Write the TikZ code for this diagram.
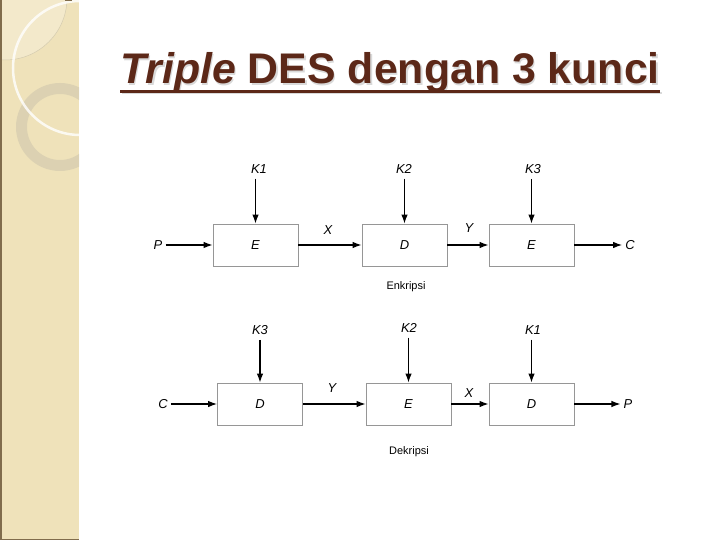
\documentclass[tikz,border=0pt]{standalone}
\usepackage{fontspec}
\setmainfont{Liberation Sans}
\usetikzlibrary{arrows.meta}
\definecolor{titlebrown}{RGB}{92,40,24}
\definecolor{strip}{RGB}{239,226,186}
\definecolor{stripedge}{RGB}{128,108,76}
\definecolor{boxgray}{RGB}{150,150,150}
\definecolor{ringgray}{RGB}{212,203,175}
\tikzset{
  blok/.style={draw=boxgray, line width=0.8bp, minimum width=85bp, minimum height=42bp,
    inner sep=0pt, font=\itshape\fontsize{13}{15}\selectfont},
  lbl/.style={font=\itshape\fontsize{13}{15}\selectfont, inner sep=3bp},
  keterangan/.style={font=\fontsize{11}{13}\selectfont, inner sep=1bp},
  arr/.style={-{Latex[length=9bp,width=6.5bp]}, line width=1.2bp},
  judulfont/.style={anchor=base west, inner sep=0pt, font=\bfseries\fontsize{43}{50}\selectfont},
}
\begin{document}
\begin{tikzpicture}[x=1bp, y=-1bp]
    \useasboundingbox (0,0) rectangle (720,540);
    % side strip
    \fill[strip] (0,0) rectangle (79,540);
    \begin{scope}
    \clip (0,0) rectangle (79,540);
    \fill[white, opacity=0.25] (5,-2) circle (62);
    \draw[ringgray, line width=0.5bp] (5,-2) circle (62);
    \fill[ringgray, opacity=0.7, even odd rule] (60,127) circle (44) (60,127) circle (33);
    \draw[white, line width=2.5bp, opacity=0.8] (80,68) circle (67);
    \end{scope}
    \draw[stripedge, line width=1.5bp] (0.75,0) -- (0.75,540);
    \draw[stripedge, line width=1.5bp] (0,539.25) -- (79,539.25);
    \fill[stripedge] (65,0) rectangle (72,1.5);
    % title
    \node[judulfont, text=black!15] (judulbg) at (121.5,85.5) {\textit{Triple} DES dengan 3 kunci};
    \node[judulfont, text=titlebrown] (judul) at (120,84) {\textit{Triple} DES dengan 3 kunci};
    \draw[black!15, line width=2.5bp] (judulbg.west |- 0,93) -- (judulbg.east |- 0,93);
    \draw[titlebrown, line width=2.5bp] (judul.west |- 0,91.5) -- (judul.east |- 0,91.5);
    % enkripsi
    \node[lbl] (p1) at (158,245) {P};
    \node[blok] (e1) at (255.5,245) {E};
    \node[blok] (d1) at (404.5,245) {D};
    \node[blok] (e2) at (531.5,245) {E};
    \node[lbl] (c1) at (630,245) {C};
    \node[lbl] (k1a) at (259,169) {K1};
    \node[lbl] (k2a) at (404,169) {K2};
    \node[lbl] (k3a) at (533,169) {K3};
    \node[lbl] (x1) at (328,230) {X};
    \node[lbl] (y1) at (469,228) {Y};
    \node[keterangan] (enk) at (406,287) {Enkripsi};
    \draw[arr] (p1) -- (e1);
    \draw[arr] (e1) -- (d1);
    \draw[arr] (d1) -- (e2);
    \draw[arr] (e2) -- (c1);
    \draw[arr, shorten <=2bp] (k1a.south -| e1.north) -- (e1.north);
    \draw[arr, shorten <=2bp] (k2a.south -| d1.north) -- (d1.north);
    \draw[arr, shorten <=2bp] (k3a.south -| e2.north) -- (e2.north);
    % dekripsi
    \node[lbl] (c2) at (163,404) {C};
    \node[blok] (d2) at (260,404) {D};
    \node[blok] (e3) at (408.5,404) {E};
    \node[blok] (d3) at (531.5,404) {D};
    \node[lbl] (p2) at (628,404) {P};
    \node[lbl] (k3b) at (260,330) {K3};
    \node[lbl] (k2b) at (409,328) {K2};
    \node[lbl] (k1b) at (533,330) {K1};
    \node[lbl] (y2) at (332,388) {Y};
    \node[lbl] (x2) at (469,393) {X};
    \node[keterangan] (dek) at (409,452) {Dekripsi};
    \draw[arr] (c2) -- (d2);
    \draw[arr] (d2) -- (e3);
    \draw[arr] (e3) -- (d3);
    \draw[arr] (d3) -- (p2);
    \draw[arr, shorten <=2bp] (k3b.south -| d2.north) -- (d2.north);
    \draw[arr, shorten <=2bp] (k2b.south -| e3.north) -- (e3.north);
    \draw[arr, shorten <=2bp] (k1b.south -| d3.north) -- (d3.north);
\end{tikzpicture}
\end{document}
